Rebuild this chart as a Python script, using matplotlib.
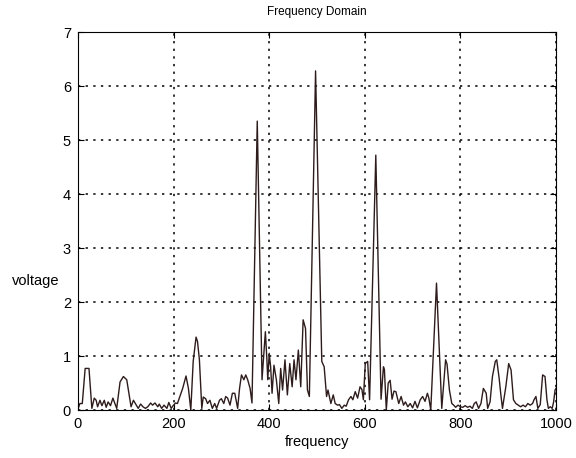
import matplotlib
matplotlib.use("Agg")
import matplotlib.pyplot as plt

# spectrum, as (frequency, voltage) samples
LOW_BAND = [(0, 0.02), (4, 0.12), (9, 0.12), (15, 0.77), (23, 0.77), (29, 0.03),
            (34, 0.22), (38, 0.18), (41, 0.06), (46, 0.18), (50, 0.08), (55, 0.18),
            (59, 0.05), (63, 0.15), (68, 0.08), (73, 0.22), (81, 0.03), (88, 0.52),
            (95, 0.62), (102, 0.56), (107, 0.28), (111, 0.06), (116, 0.18), (120, 0.12),
            (126, 0.03), (131, 0.11), (136, 0.06), (141, 0.03), (146, 0.06), (152, 0.13),
            (156, 0.09), (161, 0.13), (167, 0.06), (170, 0.11), (175, 0.03), (180, 0.09),
            (186, 0.03), (190, 0.14), (195, 0.03), (199, 0.08), (204, 0.13), (208, 0.12),
            (213, 0.25), (219, 0.40), (226, 0.63), (231, 0.40), (236, 0.00), (241, 0.90),
            (247, 1.35), (250, 1.27), (254, 0.93), (259, 0.03), (262, 0.24), (267, 0.21),
            (271, 0.12), (276, 0.18), (281, 0.03), (286, 0.12), (290, 0.03), (296, 0.18),
            (300, 0.21), (305, 0.12), (309, 0.25), (313, 0.22), (318, 0.09), (323, 0.31),
            (328, 0.31), (334, 0.03), (338, 0.40), (342, 0.65), (347, 0.56), (351, 0.65),
            (355, 0.56), (360, 0.40), (364, 0.13)]
MID_BAND = [(375, 5.35), (385, 0.56), (392, 1.45), (395, 0.96), (397, 0.56), (400, 1.05),
            (403, 0.80), (406, 0.31), (410, 0.83), (415, 0.56), (420, 0.12), (424, 0.77),
            (428, 0.37), (433, 0.93), (438, 0.28), (443, 0.86), (448, 0.43), (452, 0.93),
            (456, 0.56), (461, 1.11), (466, 0.43), (471, 1.67), (476, 1.51), (480, 0.37),
            (484, 0.25), (497, 6.28), (510, 0.90), (515, 0.80), (520, 0.25), (523, 0.37),
            (529, 0.12), (534, 0.28), (538, 0.12), (543, 0.09), (547, 0.10), (552, 0.03),
            (557, 0.09), (561, 0.07), (566, 0.19), (571, 0.25), (575, 0.19), (580, 0.34),
            (585, 0.22), (590, 0.43), (594, 0.38), (597, 0.19), (601, 0.86), (606, 0.90),
            (610, 0.19), (623, 4.72), (634, 0.20), (639, 0.80), (641, 0.75), (645, 0.00),
            (649, 0.50), (653, 0.55), (657, 0.20), (661, 0.35)]
HIGH_BAND = [(665, 0.34), (671, 0.12), (676, 0.25), (681, 0.09), (685, 0.15), (690, 0.06),
             (695, 0.12), (700, 0.04), (705, 0.16), (710, 0.04), (716, 0.19), (721, 0.25),
             (726, 0.16), (731, 0.31), (734, 0.22), (738, 0.00), (750, 2.35), (761, 0.03),
             (769, 0.93), (772, 0.85), (777, 0.37), (782, 0.12), (786, 0.09), (790, 0.05),
             (795, 0.09), (800, 0.06), (805, 0.05), (810, 0.08), (815, 0.05), (820, 0.07),
             (825, 0.03), (829, 0.12), (833, 0.15), (838, 0.03), (843, 0.12), (848, 0.40),
             (854, 0.31), (857, 0.03), (862, 0.15), (867, 0.62), (873, 0.90), (876, 0.93),
             (881, 0.59), (885, 0.25), (888, 0.03), (895, 0.43), (901, 0.86), (906, 0.74),
             (911, 0.19), (916, 0.12), (921, 0.09), (926, 0.06), (931, 0.09), (936, 0.06),
             (941, 0.12), (946, 0.09), (951, 0.12), (954, 0.19), (958, 0.25), (962, 0.03),
             (967, 0.10), (972, 0.65), (977, 0.62), (981, 0.19), (984, 0.03), (988, 0.06),
             (992, 0.03), (995, 0.15), (998, 0.37), (1000, 0.40)]

FREQ = [f for f, v in LOW_BAND + MID_BAND + HIGH_BAND]
VOLT = [v for f, v in LOW_BAND + MID_BAND + HIGH_BAND]

plt.rcParams["font.family"] = ["Liberation Sans", "DejaVu Sans"]
plt.rcParams["font.size"] = 10

fig = plt.figure(figsize=(5.76, 4.58), dpi=100)
ax = fig.add_axes([0.1354, 0.1048, 0.8299, 0.8253])

ax.plot(FREQ, VOLT, color="#2e1c1c", lw=1.0)

ax.set_xlim(0, 1000)
ax.set_ylim(0, 7)
ax.set_xticks(range(0, 1001, 200))
ax.set_yticks(range(0, 8))
ax.grid(True, color="black", ls=(0, (1.5, 3.5)), lw=1.1)
ax.tick_params(direction="in", length=4, top=True, right=True, colors="black",
               labelsize=10.5, pad=5)
for s in ax.spines.values():
    s.set_color("black")
    s.set_linewidth(0.8)

ax.set_title("Frequency Domain", fontsize=8.5, pad=12)
ax.set_xlabel("frequency", fontsize=10.5, labelpad=3)
ax.set_ylabel("voltage", fontsize=10.5, rotation=0, va="center", ha="center")
ax.yaxis.set_label_coords(-0.089, 0.34)

fig.savefig("out.png", dpi=100)
